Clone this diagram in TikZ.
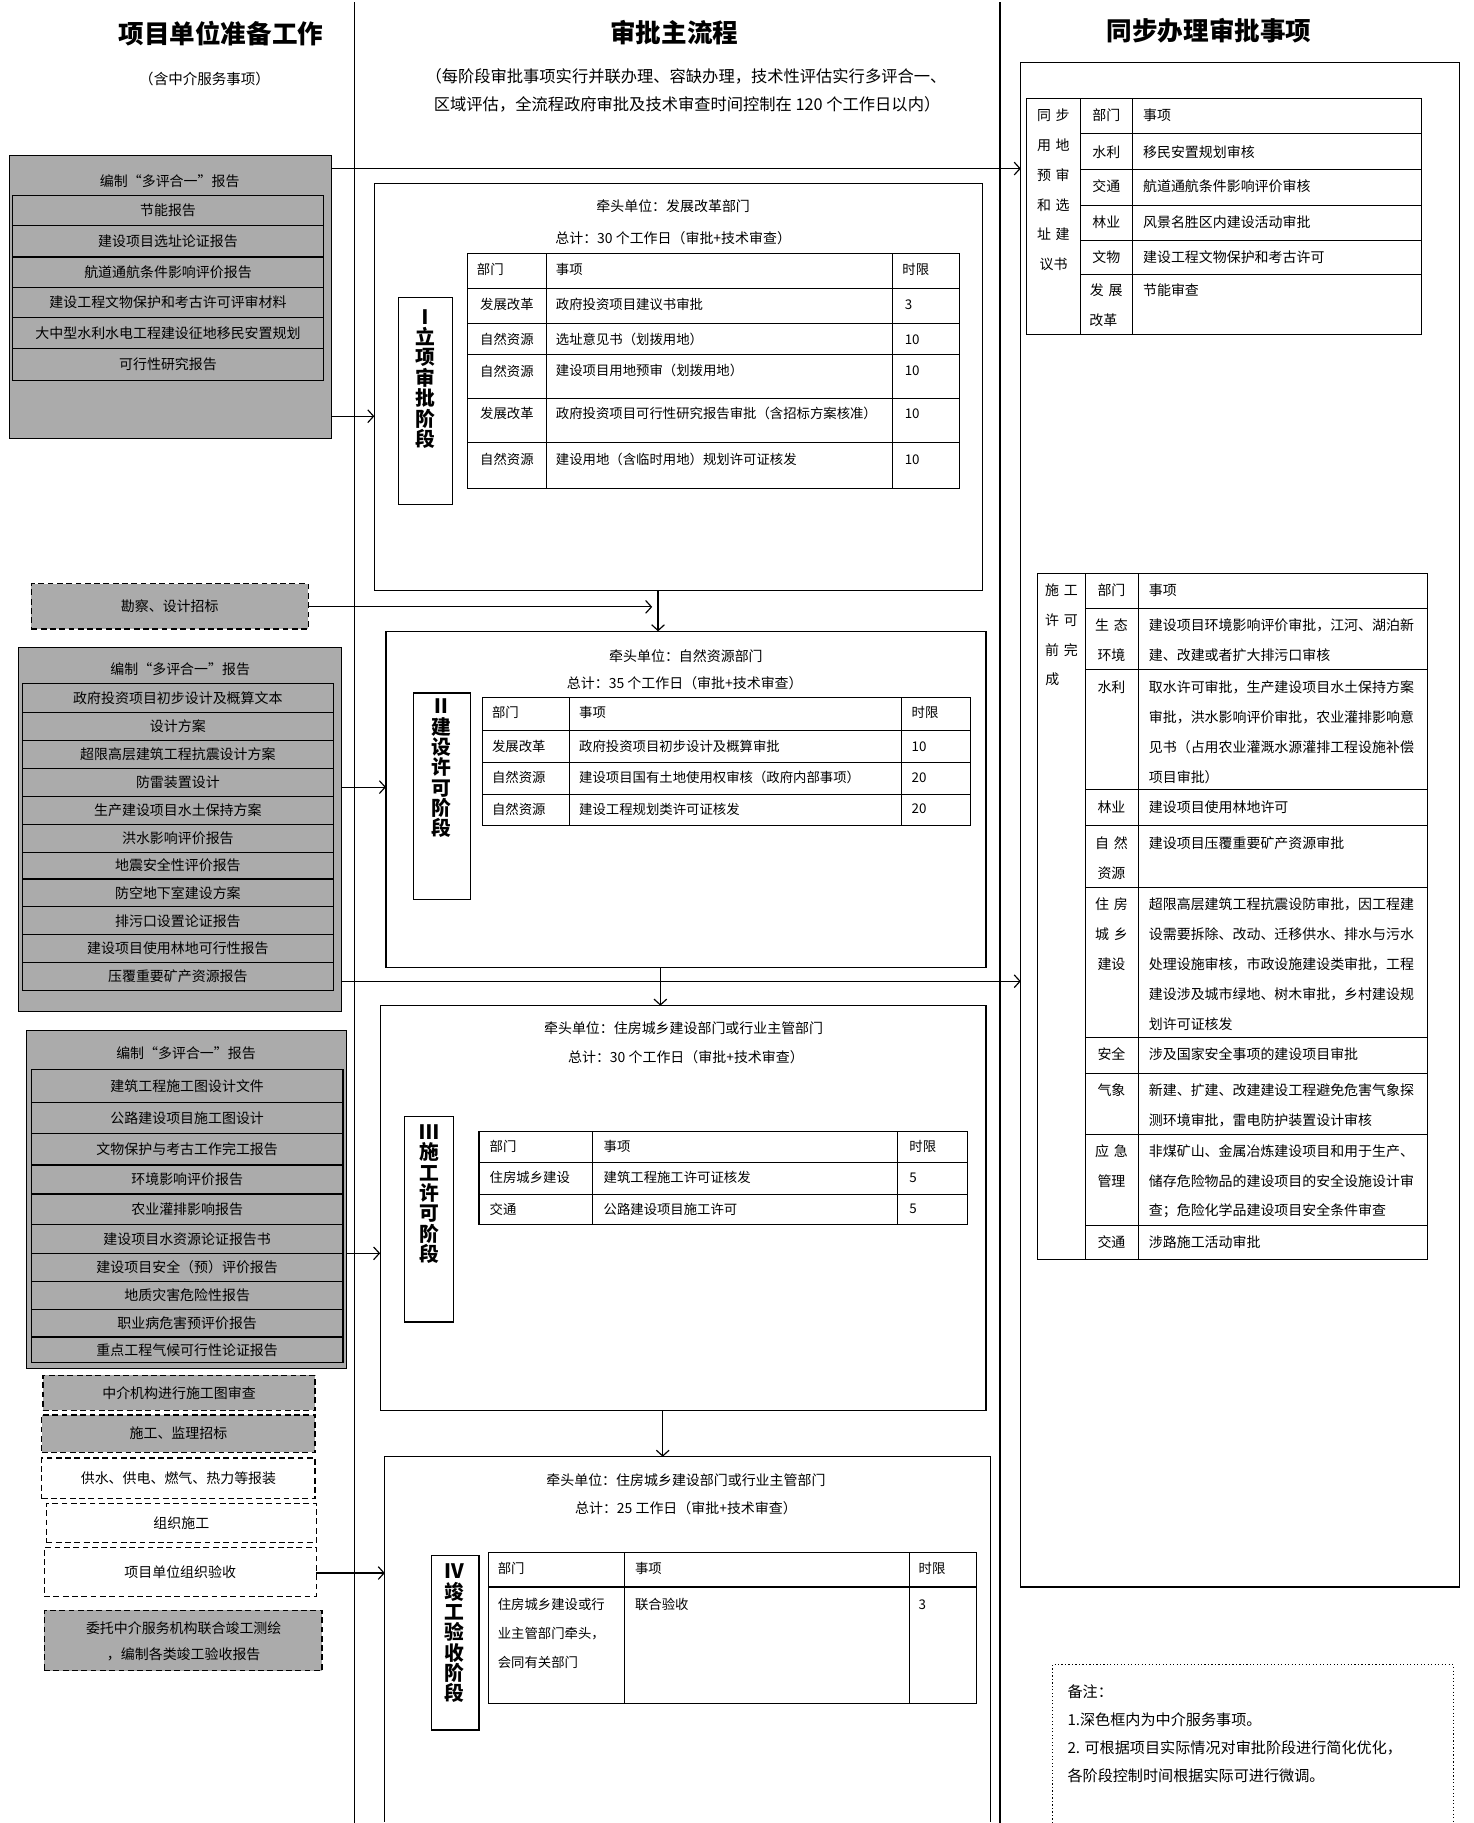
\documentclass[tikz,border=0pt]{standalone}
\usepackage{fontspec}
\setmainfont{Noto Sans CJK SC}
\usetikzlibrary{arrows.meta,fit}
\newcommand\txtlines[5]{% x, y0, name, style, list
  \foreach \lntxt [count=\k] in {#5} {\node[#4] (#3\k) at (#1,{#2+(\k-1)*25.7}) {\lntxt};}}
\begin{document}
\begin{tikzpicture}[x=1pt,y=-1pt,
  box/.style={draw,line width=1pt,inner sep=0pt,outer sep=0pt},
  svc/.style={box,fill=black!33},
  dsvc/.style={svc,dash pattern=on 5pt off 3pt},
  dbox/.style={box,dash pattern=on 5pt off 3pt},
  ln/.style={line width=0.9pt},
  arr/.style={line width=1pt,-{Straight Barb[length=5pt,width=11pt,line width=1pt]}},
  t/.style={inner sep=0pt,font=\fontsize{12}{14}\selectfont},
  tt/.style={t,anchor=west},
  ts/.style={inner sep=0pt,font=\fontsize{11.5}{13}\selectfont},
  tsw/.style={ts,anchor=west},
  ttl/.style={inner sep=0pt,font=\fontsize{22}{26}\selectfont\bfseries},
  sub/.style={inner sep=0pt,font=\fontsize{14}{16}\selectfont},
  vlab/.style={inner sep=0pt,anchor=north,align=center,font=\fontsize{17}{17.5}\selectfont\bfseries},
]
\useasboundingbox (0,0) rectangle (1267,1568);

% column dividers
\draw[line width=1.2pt] (305,2) -- (305,1568);
\draw[line width=1.2pt] (860,2) -- (860,1568);

% titles
\node[ttl] (T1) at (190,29) {项目单位准备工作};
\node[sub,font=\fontsize{12.5}{14}\selectfont] (T1s) at (176,68) {（含中介服务事项）};
\node[ttl] (T2) at (580,28) {审批主流程};
\node[sub] (T2a) at (590,66) {（每阶段审批事项实行并联办理、容缺办理，技术性评估实行多评合一、};
\node[sub] (T2b) at (591,90) {区域评估，全流程政府审批及技术审查时间控制在 120 个工作日以内）};
\node[ttl] (T3) at (1040,26) {同步办理审批事项};

% ---------- left column ----------
\node[svc,fit={(8,134)(285,377)}] (A) {};
\node[t] (At) at (146,156) {编制“多评合一”报告};
\foreach \i/\ya/\yb/\s in {1/168/194/节能报告, 2/194/221/建设项目选址论证报告, 3/221/247/航道通航条件影响评价报告, 4/247/273/建设工程文物保护和考古许可评审材料, 5/273/300/大中型水利水电工程建设征地移民安置规划, 6/300/327/可行性研究报告} {
  \node[svc,fit={(11,\ya)(278,\yb)}] (A\i) {};
  \node[t] (At\i) at (144.5,{(\ya+\yb)/2}) {\s};
}

\node[dsvc,fit={(27,502)(265,541)}] (K) {};
\node[t] (Kt) at (K.center) {勘察、设计招标};

\node[svc,fit={(16,557)(294,870)}] (B) {};
\node[t] (Bt) at (155,576) {编制“多评合一”报告};
\foreach \i/\ya/\yb/\s in {1/588/613/政府投资项目初步设计及概算文本, 2/613/637/设计方案, 3/637/661/超限高层建筑工程抗震设计方案, 4/661/685/防雷装置设计, 5/685/709/生产建设项目水土保持方案, 6/709/733/洪水影响评价报告, 7/733/756/地震安全性评价报告, 8/756/780/防空地下室建设方案, 9/780/804/排污口设置论证报告, 10/804/828/建设项目使用林地可行性报告, 11/828/852/压覆重要矿产资源报告} {
  \node[svc,fit={(19,\ya)(287,\yb)}] (B\i) {};
  \node[t] (Bt\i) at (153,{(\ya+\yb)/2}) {\s};
}

\node[svc,fit={(23,886)(298,1177)}] (C) {};
\node[t] (Ct) at (160,906) {编制“多评合一”报告};
\foreach \i/\ya/\yb/\s in {1/920/948/建筑工程施工图设计文件, 2/948/975/公路建设项目施工图设计, 3/975/1002/文物保护与考古工作完工报告, 4/1002/1027/环境影响评价报告, 5/1027/1053/农业灌排影响报告, 6/1053/1078/建设项目水资源论证报告书, 7/1078/1102/建设项目安全（预）评价报告, 8/1102/1126/地质灾害危险性报告, 9/1126/1150/职业病危害预评价报告, 10/1150/1172/重点工程气候可行性论证报告} {
  \node[svc,fit={(27,\ya)(295,\yb)}] (C\i) {};
  \node[t] (Ct\i) at (161,{(\ya+\yb)/2}) {\s};
}

\node[dsvc,fit={(37,1183)(271,1213)}] (D1) {};
\node[t] (D1t) at (D1.center) {中介机构进行施工图审查};
\node[dsvc,fit={(36,1217)(271,1249)}] (D2) {};
\node[t] (D2t) at (D2.center) {施工、监理招标};
\node[dbox,fit={(36,1254)(271,1289)}] (D3) {};
\node[t] (D3t) at (D3.center) {供水、供电、燃气、热力等报装};
\node[dbox,fit={(40,1293)(272,1327)}] (D4) {};
\node[t] (D4t) at (D4.center) {组织施工};
\node[dbox,fit={(38,1331)(272,1373)}] (D5) {};
\node[t] (D5t) at (D5.center) {项目单位组织验收};
\node[dsvc,fit={(38,1385)(277,1437)}] (D6) {};
\node[t] (D6a) at (158,1400) {委托中介服务机构联合竣工测绘};
\node[t] (D6b) at (158,1423) {，编制各类竣工验收报告};

% ---------- Stage I ----------
\node[box,fit={(322,158)(845,508)}] (S1) {};
\node[t] (S1a) at (579,177) {牵头单位：发展改革部门};
\node[t] (S1b) at (579,205) {总计：30 个工作日（审批+技术审查）};
\draw[ln] (402,218) rectangle (825,420);
\foreach \y in {248,278,305,343,381} \draw[ln] (402,\y) -- (825,\y);
\draw[ln] (470,218) -- (470,420) (768,218) -- (768,420);
\node[tsw] (S1h1) at (410,232) {部门};
\node[tsw] (S1h2) at (478,232) {事项};
\node[tsw] (S1h3) at (776,232) {时限};
\foreach \i/\y/\dep/\itm/\val in {1/262/发展改革/政府投资项目建议书审批/3, 2/292/自然资源/选址意见书（划拨用地）/10, 3/319/自然资源/建设项目用地预审（划拨用地）/10, 4/356/发展改革/政府投资项目可行性研究报告审批（含招标方案核准）/10, 5/395/自然资源/建设用地（含临时用地）规划许可证核发/10} {
  \node[ts] (S1d\i) at (436,\y) {\dep};
  \node[tsw] (S1i\i) at (478,\y) {\itm};
  \node[tsw] (S1v\i) at (778,\y) {\val};
}
\node[box,fit={(343,256)(389,434)}] (L1) {};
\node[vlab] (L1t) at (366,266) {Ⅰ\\立\\项\\审\\批\\阶\\段};

% ---------- Stage II ----------
\node[box,fit={(332,543)(848,832)}] (S2) {};
\node[t] (S2a) at (590,564) {牵头单位：自然资源部门};
\node[t] (S2b) at (589,588) {总计：35 个工作日（审批+技术审查）};
\draw[ln] (415,600) rectangle (835,710);
\foreach \y in {628,656,683} \draw[ln] (415,\y) -- (835,\y);
\draw[ln] (490,600) -- (490,710) (775,600) -- (775,710);
\node[tsw] (S2h1) at (423,613) {部门};
\node[tsw] (S2h2) at (498,613) {事项};
\node[tsw] (S2h3) at (784,613) {时限};
\foreach \i/\y/\dep/\itm/\val in {1/642/发展改革/政府投资项目初步设计及概算审批/10, 2/669/自然资源/建设项目国有土地使用权审核（政府内部事项）/20, 3/696/自然资源/建设工程规划类许可证核发/20} {
  \node[tsw] (S2d\i) at (423,\y) {\dep};
  \node[tsw] (S2i\i) at (498,\y) {\itm};
  \node[tsw] (S2v\i) at (784,\y) {\val};
}
\node[box,fit={(356,596)(405,774)}] (L2) {};
\node[vlab] (L2t) at (380,601) {Ⅱ\\建\\设\\许\\可\\阶\\段};

% ---------- Stage III ----------
\node[box,fit={(327,865)(848,1213)}] (S3) {};
\node[t] (S3a) at (588,884) {牵头单位：住房城乡建设部门或行业主管部门};
\node[t] (S3b) at (590,909) {总计：30 个工作日（审批+技术审查）};
\draw[ln] (412,973) rectangle (832,1053);
\foreach \y in {1000,1027} \draw[ln] (412,\y) -- (832,\y);
\draw[ln] (510,973) -- (510,1053) (772,973) -- (772,1053);
\node[tsw] (S3h1) at (421,986) {部门};
\node[tsw] (S3h2) at (519,986) {事项};
\node[tsw] (S3h3) at (782,986) {时限};
\foreach \i/\y/\dep/\itm/\val in {1/1013/住房城乡建设/建筑工程施工许可证核发/5, 2/1040/交通/公路建设项目施工许可/5} {
  \node[tsw] (S3d\i) at (421,\y) {\dep};
  \node[tsw] (S3i\i) at (519,\y) {\itm};
  \node[tsw] (S3v\i) at (782,\y) {\val};
}
\node[box,fit={(348,960)(390,1137)}] (L3) {};
\node[vlab] (L3t) at (369,967) {Ⅲ\\施\\工\\许\\可\\阶\\段};

% ---------- Stage IV ----------
\node[inner sep=0pt,outer sep=0pt,fit={(331,1253)(852,1567)}] (S4) {};
\draw[line width=1pt] (S4.south west) -- (S4.north west) -- (S4.north east) -- (S4.south east);
\node[t] (S4a) at (590,1273) {牵头单位：住房城乡建设部门或行业主管部门};
\node[t] (S4b) at (590,1297) {总计：25 工作日（审批+技术审查）};
\draw[ln] (420,1335) rectangle (840,1465);
\draw[ln] (420,1365) -- (840,1365);
\draw[ln] (537,1335) -- (537,1465) (782,1335) -- (782,1465);
\node[tsw] (S4h1) at (428,1349) {部门};
\node[tsw] (S4h2) at (546,1349) {事项};
\node[tsw] (S4h3) at (790,1349) {时限};
\node[tsw] (S4d1) at (428,1380) {住房城乡建设或行};
\node[tsw] (S4d2) at (428,1405) {业主管部门牵头，};
\node[tsw] (S4d3) at (428,1430) {会同有关部门};
\node[tsw] (S4i1) at (546,1380) {联合验收};
\node[tsw] (S4v1) at (790,1380) {3};
\node[box,fit={(371,1338)(412,1488)}] (L4) {};
\node[vlab] (L4t) at (391,1345) {Ⅳ\\竣\\工\\验\\收\\阶\\段};

% ---------- right column ----------
\node[box,fit={(878,54)(1255,1365)}] (R) {};
% table 1
\draw[ln] (883,85) rectangle (1223,288);
\draw[ln] (929,85) -- (929,288) (974,85) -- (974,288);
\foreach \y in {115,146,177,207,236} \draw[ln] (929,\y) -- (1223,\y);
\txtlines{906}{99}{Ra}{t}{同\hspace{4pt}步,用\hspace{4pt}地,预\hspace{4pt}审,和\hspace{4pt}选,址\hspace{4pt}建}
\node[tt] (Ra6) at (894,227) {议书};
\foreach \i/\y/\dep/\itm in {1/99/部门/事项, 2/130.5/水利/移民安置规划审核, 3/160.5/交通/航道通航条件影响评价审核, 4/191/林业/风景名胜区内建设活动审批, 5/221/文物/建设工程文物保护和考古许可, 6/249.5/发\hspace{4pt}展/节能审查} {
  \node[t] (Rd\i) at (951.5,\y) {\dep};
  \node[tt] (Ri\i) at (983,\y) {\itm};
}
\node[t] (Rd7) at (949,275) {改革};

% table 2
\draw[ln] (892,493) rectangle (1228,1083);
\draw[ln] (934,493) -- (934,1083) (979,493) -- (979,1083);
\foreach \y in {523,576,679,710,763,892,923,976,1054} \draw[ln] (934,\y) -- (1228,\y);
\txtlines{913}{508}{Qa}{t}{施\hspace{4pt}工,许\hspace{4pt}可,前\hspace{4pt}完}
\node[tt] (Qa4) at (899,584) {成};
\node[t] (Qd0) at (956,508) {部门};
\node[tt] (Qi0) at (988,508) {事项};
\txtlines{956}{538}{Qd1}{t}{生\hspace{4pt}态,环境}
\txtlines{988}{538}{Qi1}{tt}{建设项目环境影响评价审批，江河、湖泊新,建、改建或者扩大排污口审核}
\txtlines{956}{591}{Qd2}{t}{水利}
\txtlines{988}{591}{Qi2}{tt}{取水许可审批，生产建设项目水土保持方案,审批，洪水影响评价审批，农业灌排影响意,见书（占用农业灌溉水源灌排工程设施补偿,项目审批）}
\txtlines{956}{694}{Qd3}{t}{林业}
\txtlines{988}{694}{Qi3}{tt}{建设项目使用林地许可}
\txtlines{956}{725}{Qd4}{t}{自\hspace{4pt}然,资源}
\txtlines{988}{725}{Qi4}{tt}{建设项目压覆重要矿产资源审批}
\txtlines{956}{778}{Qd5}{t}{住\hspace{4pt}房,城\hspace{4pt}乡,建设}
\txtlines{988}{778}{Qi5}{tt}{超限高层建筑工程抗震设防审批，因工程建,设需要拆除、改动、迁移供水、排水与污水,处理设施审核，市政设施建设类审批，工程,建设涉及城市绿地、树木审批，乡村建设规,划许可证核发}
\txtlines{956}{907}{Qd6}{t}{安全}
\txtlines{988}{907}{Qi6}{tt}{涉及国家安全事项的建设项目审批}
\txtlines{956}{938}{Qd7}{t}{气象}
\txtlines{988}{938}{Qi7}{tt}{新建、扩建、改建建设工程避免危害气象探,测环境审批，雷电防护装置设计审核}
\txtlines{956}{990}{Qd8}{t}{应\hspace{4pt}急,管理}
\txtlines{988}{990}{Qi8}{tt}{非煤矿山、金属冶炼建设项目和用于生产、,储存危险物品的建设项目的安全设施设计审,查；危险化学品建设项目安全条件审查}
\txtlines{956}{1068}{Qd9}{t}{交通}
\txtlines{988}{1068}{Qi9}{tt}{涉路施工活动审批}

% note box
\node[inner sep=0pt,outer sep=0pt,fit={(905,1432)(1250,1568)}] (N) {};
\draw[line width=1pt,dotted] (N.south west) -- (N.north west) -- (N.north east) -- (N.south east);
\node[tt,font=\fontsize{13}{15}\selectfont] (N1) at (918,1455) {备注：};
\node[tt,font=\fontsize{13}{15}\selectfont] (N2) at (918,1479) {1.深色框内为中介服务事项。};
\node[tt,font=\fontsize{13}{15}\selectfont] (N3) at (918,1503) {2. 可根据项目实际情况对审批阶段进行简化优化，};
\node[tt,font=\fontsize{13}{15}\selectfont] (N4) at (918,1527) {各阶段控制时间根据实际可进行微调。};

% ---------- connectors ----------
\coordinate (kend) at (561,522);
\draw[arr] (A.east |- 0,145) -- (R.west |- 0,145);
\draw[arr] (A.east |- 0,358) -- (S1.west |- 0,358);
\draw[arr] (K.east |- 0,522) -- (kend);
\draw[arr] (566,0 |- S1.south) -- (566,0 |- S2.north);
\draw[arr] (B.east |- 0,677) -- (S2.west |- 0,677);
\draw[arr] (B.east |- 0,844) -- (R.west |- 0,844);
\draw[arr] (568,0 |- S2.south) -- (568,0 |- S3.north);
\draw[arr] (C.east |- 0,1078) -- (S3.west |- 0,1078);
\draw[arr] (570,0 |- S3.south) -- (570,0 |- S4.north);
\draw[arr] (D5.east |- 0,1353) -- (S4.west |- 0,1353);
\end{tikzpicture}
\end{document}
